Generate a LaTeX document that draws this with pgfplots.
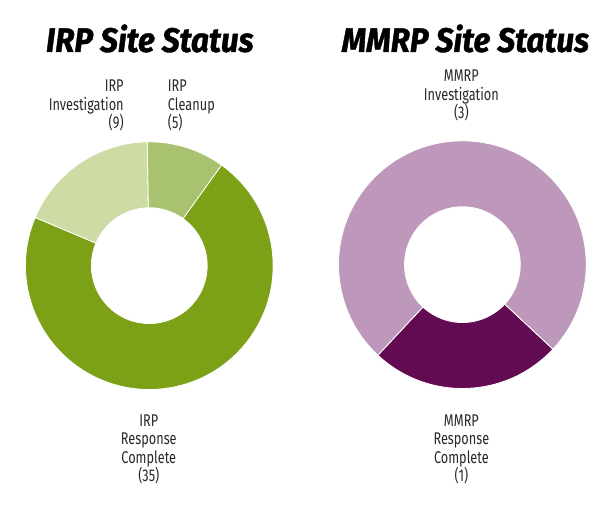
\documentclass[border=0pt]{standalone}
\usepackage{pgfplots}
\pgfplotsset{compat=1.18}
\usepackage{pgfplotstable}
\usepackage{fontspec}
\setmainfont{Fira Sans}
\newfontfamily\labelfont[FakeStretch=0.75]{Fira Sans}
\newfontfamily\titlefont[FakeStretch=0.93, FakeBold=1.2]{Fira Sans}

\definecolor{irpinv}{RGB}{205,220,165}
\definecolor{irpclean}{RGB}{168,194,112}
\definecolor{irpdone}{RGB}{124,160,22}
\definecolor{mmrpinv}{RGB}{190,152,186}
\definecolor{mmrpdone}{RGB}{98,10,82}
\definecolor{labelgray}{RGB}{40,40,40}

% site counts
\pgfplotstableread{
slice count
Investigation 9
Cleanup 5
Complete 35
}\irptable
\pgfplotstableread{
slice count
Investigation 3
Complete 1
}\mmrptable

% ring segment: centre x, centre y, start angle, end angle, colour
\newcommand{\ring}[5]{%
  \fill[#5, draw=white, line width=0.8pt] (axis cs:#1,#2) ++(#3:124pt)
    arc[start angle=#3, end angle=#4, radius=124pt]
    -- ++(#4:-66pt)
    arc[start angle=#4, end angle=#3, radius=58pt] -- cycle;}

\begin{document}
\begin{tikzpicture}
% angles from the table values (clockwise)
\pgfplotstablegetelem{0}{count}\of\irptable \let\irpI\pgfplotsretval
\pgfplotstablegetelem{1}{count}\of\irptable \let\irpC\pgfplotsretval
\pgfplotstablegetelem{2}{count}\of\irptable \let\irpD\pgfplotsretval
\pgfmathsetmacro{\irpT}{\irpI+\irpC+\irpD}
\pgfmathsetmacro{\aA}{91}
\pgfmathsetmacro{\aB}{\aA-360*\irpC/\irpT}
\pgfmathsetmacro{\aC}{\aB-360*\irpD/\irpT}
\pgfmathsetmacro{\aD}{\aC-360*\irpI/\irpT}
\pgfplotstablegetelem{0}{count}\of\mmrptable \let\mmI\pgfplotsretval
\pgfplotstablegetelem{1}{count}\of\mmrptable \let\mmD\pgfplotsretval
\pgfmathsetmacro{\mmT}{\mmI+\mmD}
\pgfmathsetmacro{\bA}{-43}
\pgfmathsetmacro{\bB}{\bA-360*\mmD/\mmT}
\pgfmathsetmacro{\bC}{\bB-360*\mmI/\mmT}
\begin{axis}[
    x=1pt, y=1pt,
    xmin=0, xmax=600, ymin=0, ymax=507,
    hide axis, clip=false,
]
\path (axis cs:0,0) rectangle (axis cs:600,507);

\ring{149.5}{241}{\aA}{\aB}{irpclean}
\ring{149.5}{241}{\aB}{\aC}{irpdone}
\ring{149.5}{241}{\aC}{\aD}{irpinv}

\ring{463}{242}{\bA}{\bB}{mmrpdone}
\ring{463}{242}{\bB}{\bC}{mmrpinv}

\node[anchor=base, font=\titlefont\bfseries\itshape\fontsize{34}{38}\selectfont]
  at (axis cs:150,455) {IRP Site Status};
\node[anchor=base, font=\titlefont\bfseries\itshape\fontsize{34}{38}\selectfont]
  at (axis cs:466,455) {MMRP Site Status};

\tikzset{lbl/.style={inner sep=0pt, text=labelgray,
  font=\labelfont\fontsize{17}{18.5}\selectfont}}
\node[lbl, anchor=north east, align=right] at (axis cs:124,427)
  {IRP\\Investigation\\(9)};
\node[lbl, anchor=north west, align=left] at (axis cs:168,427)
  {IRP\\Cleanup\\(5)};
\node[lbl, anchor=north, align=center] at (axis cs:149,92)
  {IRP\\Response\\Complete\\(35)};
\node[lbl, anchor=north, align=center] at (axis cs:462,437)
  {MMRP\\Investigation\\(3)};
\node[lbl, anchor=north, align=center] at (axis cs:462,92)
  {MMRP\\Response\\Complete\\(1)};
\end{axis}
\end{tikzpicture}
\end{document}
